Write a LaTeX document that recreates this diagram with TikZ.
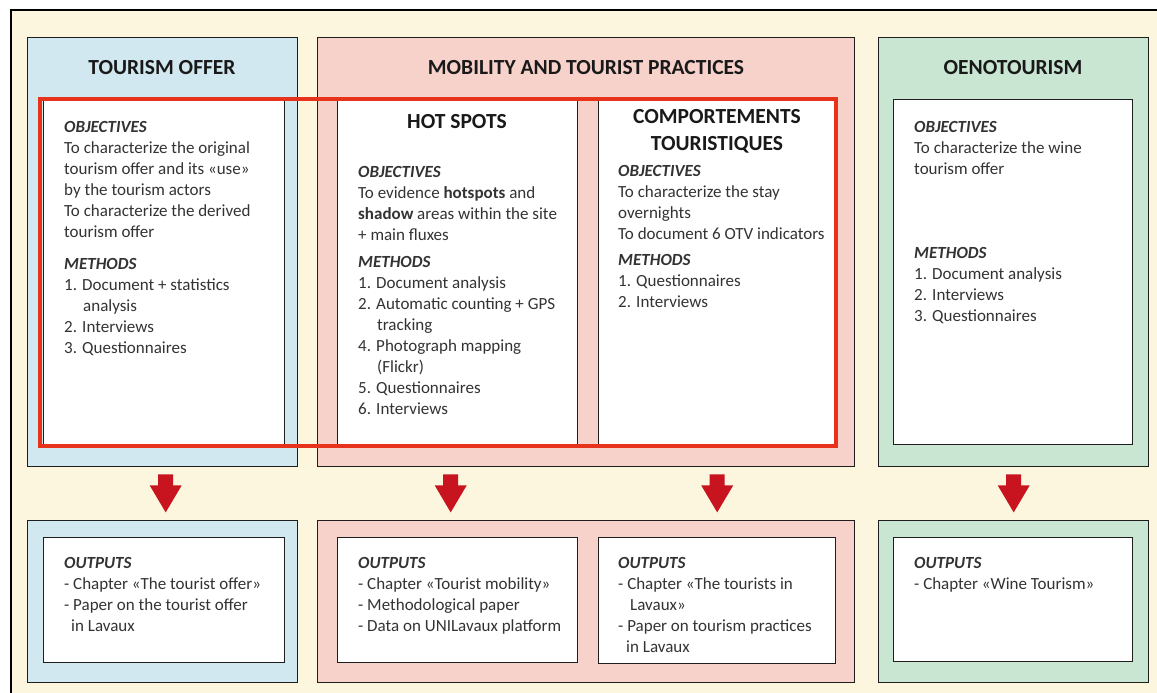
\documentclass[tikz,border=0pt]{standalone}
\usepackage{fontspec}
\setmainfont{Carlito}
\definecolor{cream}{HTML}{FCF6DE}
\definecolor{offerblue}{HTML}{D2E8F0}
\definecolor{mobpink}{HTML}{F7D2CB}
\definecolor{oenogreen}{HTML}{C9E6D3}
\definecolor{hired}{HTML}{E8331C}
\definecolor{arrowred}{HTML}{C8141E}
\definecolor{bodytext}{HTML}{333333}
\definecolor{boxline}{HTML}{1E1E1E}
\begin{document}
\begin{tikzpicture}[x=1pt,y=-1pt,
  colbox/.style={draw=boxline, line width=1.4pt, anchor=north west, inner sep=0pt},
  whitebox/.style={draw=boxline, fill=white, line width=1.4pt, anchor=north west, inner sep=0pt},
  titletext/.style={font=\fontsize{21.5}{27}\selectfont\bfseries, text=black!90, align=center, inner sep=0pt},
  bodyblock/.style={font=\fontsize{17}{21}\selectfont, text=bodytext, align=left, anchor=north west, inner sep=0pt},
  redarrow/.pic={\fill[arrowred] (-7.5,0) -- (7.5,0) -- (7.5,11) -- (16,11) -- (0,38) -- (-16,11) -- (-7.5,11) -- cycle;}
]
\newcommand\hd[1]{\textbf{\textit{#1}}}
\useasboundingbox (0,0) rectangle (1157,693);
\clip (0,0) rectangle (1157,693);
\fill[white] (0,0) rectangle (1157,693);
\draw[fill=cream, line width=1.2pt] (11,10) rectangle (1175,710);

% top colour boxes
\node[colbox, fill=offerblue, minimum width=270, minimum height=429] (offer) at (27,37) {};
\node[colbox, fill=mobpink, minimum width=537, minimum height=429] (mob) at (317,37) {};
\node[colbox, fill=oenogreen, minimum width=270, minimum height=429] (oeno) at (878,37) {};
% bottom colour boxes
\node[colbox, fill=offerblue, minimum width=270, minimum height=162] (offerout) at (27,520) {};
\node[colbox, fill=mobpink, minimum width=537, minimum height=162] (mobout) at (317,520) {};
\node[colbox, fill=oenogreen, minimum width=270, minimum height=162] (oenoout) at (878,520) {};

% inner white boxes, top
\node[whitebox, minimum width=241, minimum height=345] (offerin) at (43,99) {};
\node[whitebox, minimum width=240, minimum height=345] (hotin) at (337,99) {};
\node[whitebox, minimum width=237, minimum height=345] (compin) at (598,99) {};
\node[whitebox, minimum width=239, minimum height=345] (oenoin) at (893,99) {};
% inner white boxes, bottom
\node[whitebox, minimum width=241, minimum height=125] (offerinb) at (43,537) {};
\node[whitebox, minimum width=240, minimum height=125] (hotinb) at (337,537) {};
\node[whitebox, minimum width=237, minimum height=126] (compinb) at (598,537) {};
\node[whitebox, minimum width=239, minimum height=124] (oenoinb) at (893,537) {};

% titles
\node[titletext] (t1) at (162,68) {TOURISM OFFER};
\node[titletext] (t2) at (586,68) {MOBILITY AND TOURIST PRACTICES};
\node[titletext] (t3) at (1013,68) {OENOTOURISM};
\node[titletext] (t4) at (457,122) {HOT SPOTS};
\node[titletext] (t5) at (717,131) {COMPORTEMENTS\\TOURISTIQUES};

% body text, top
\node[bodyblock] (b1) at (64,121) {\hd{OBJECTIVES}\\
To characterize the original\\
tourism offer and its «use»\\
by the tourism actors\\
To characterize the derived\\
tourism offer\\[11pt]
\hd{METHODS}\\
1. Document + statistics\\
\hspace*{19pt}analysis\\
2. Interviews\\
3. Questionnaires};

\node[bodyblock] (b2) at (358,166) {\hd{OBJECTIVES}\\
To evidence \textbf{hotspots} and\\
\textbf{shadow} areas within the site\\
+ main fluxes\\[6pt]
\hd{METHODS}\\
1. Document analysis\\
2. Automatic counting + GPS\\
\hspace*{19pt}tracking\\
4. Photograph mapping\\
\hspace*{19pt}(Flickr)\\
5. Questionnaires\\
6. Interviews};

\node[bodyblock] (b3) at (618,165) {\hd{OBJECTIVES}\\
To characterize the stay\\
overnights\\
To document 6 OTV indicators\\[5pt]
\hd{METHODS}\\
1. Questionnaires\\
2. Interviews};

\node[bodyblock] (b4) at (914,121) {\hd{OBJECTIVES}\\
To characterize the wine\\
tourism offer\\[63pt]
\hd{METHODS}\\
1. Document analysis\\
2. Interviews\\
3. Questionnaires};

% body text, bottom
\node[bodyblock] (o1) at (64,557) {\hd{OUTPUTS}\\
- Chapter «The tourist offer»\\
- Paper on the tourist offer\\
\hspace*{7pt}in Lavaux};
\node[bodyblock] (o2) at (358,557) {\hd{OUTPUTS}\\
- Chapter «Tourist mobility»\\
- Methodological paper\\
- Data on UNILavaux platform};
\node[bodyblock] (o3) at (618,557) {\hd{OUTPUTS}\\
- Chapter «The tourists in\\
\hspace*{12pt}Lavaux»\\
- Paper on tourism practices\\
\hspace*{8pt}in Lavaux};
\node[bodyblock] (o4) at (914,557) {\hd{OUTPUTS}\\
- Chapter «Wine Tourism»};

% arrows between top and bottom boxes
\pic at ([xshift=3pt,yshift=-7pt]offer.south) {redarrow};
\pic at ([xshift=-7pt,yshift=-7pt]hotin.south |- offer.south) {redarrow};
\pic at ([yshift=-7pt]compin.south |- offer.south) {redarrow};
\pic at ([yshift=-7pt]oeno.south) {redarrow};

% red highlight frame
\draw[hired, line width=4pt] (offerin.north west) ++(-3,0) coordinate (hlnw)
  rectangle (compin.south east |- 0,446);
\end{tikzpicture}
\end{document}
